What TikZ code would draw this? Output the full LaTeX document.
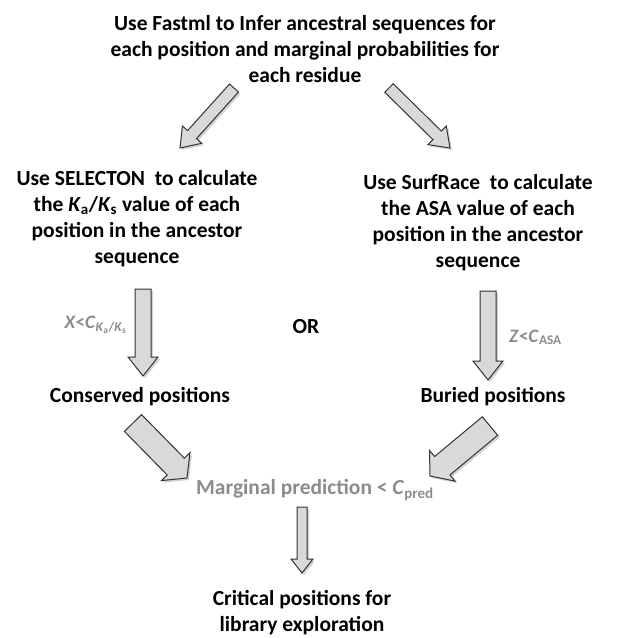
\documentclass[tikz,border=0pt]{standalone}
\usepackage{fontspec}
\setmainfont{Carlito}
\usetikzlibrary{calc, shadows}
\definecolor{cfill}{HTML}{D9D9D9}
\definecolor{cline}{HTML}{333333}
\definecolor{cgrey}{HTML}{8C8C8C}
\tikzset{
  every picture/.style={font=\bfseries},
  step text/.style={align=center, font=\fontsize{21.5}{26}\selectfont\bfseries, inner sep=0pt},
  cond/.style={text=cgrey, inner sep=0pt},
  blockarr/.style={draw=cline, fill=cfill, line width=1pt, line join=miter,
    drop shadow={shadow xshift=2pt, shadow yshift=-2pt, opacity=0.35}},
}
% block arrow between two named coordinates: from, to, half shaft, half head, head length
\newcommand\blockarrow[5]{%
  \draw[blockarr] let \p1=(#1), \p2=(#2), \n1={atan2(\y2-\y1,\x2-\x1)},
    \n2={veclen(\x2-\x1,\y2-\y1)} in [shift={(\p1)}, rotate=\n1]
    (0pt,-#3pt) -- (\n2-#5pt,-#3pt) -- (\n2-#5pt,-#4pt) -- (\n2,0pt)
    -- (\n2-#5pt,#4pt) -- (\n2-#5pt,#3pt) -- (0pt,#3pt) -- cycle;
}
\begin{document}
\begin{tikzpicture}[x=1pt, y=-1pt]
  \useasboundingbox (0,0) rectangle (622,638);

  \node[step text] (fastml) at (305,49) {Use Fastml to Infer ancestral sequences for\\
    each position and marginal probabilities for\\ each residue};
  \node[step text] (selecton) at (137,219) {Use SELECTON\ \ to calculate\\
    the \textit{K}\textsubscript{a}/\textit{K}\textsubscript{s} value of each\\
    position in the ancestor\\ sequence};
  \node[step text] (surfrace) at (478,223) {Use SurfRace\ \ to calculate\\
    the ASA value of each\\ position in the ancestor\\ sequence};
  \node[step text] (or) at (306,327) {OR};
  \node[cond, font=\fontsize{19}{22}\selectfont\bfseries, anchor=base east] (xcond) at (127,328)
    {\textit{X}<\textit{C}\textsubscript{\textit{K}\textsubscript{a}/\textit{K}\textsubscript{s}}};
  \node[cond, font=\fontsize{19}{22}\selectfont\bfseries, anchor=base west] (zcond) at (509,342)
    {\textit{Z}<\textit{C}\textsubscript{ASA}};
  \node[step text] (conserved) at (140,397) {Conserved positions};
  \node[step text] (buried) at (493,397) {Buried positions};
  \node[step text, cond] (marginal) at (315,490) {Marginal prediction < \textit{C}\textsubscript{pred}};
  \node[step text] (critical) at (302,613) {Critical positions for\\ library exploration};

  % arrow ends
  \coordinate (a1s) at (234,88);  \coordinate (a1t) at (180,148);
  \coordinate (a2s) at (389,88);  \coordinate (a2t) at (450,148);
  \coordinate (a3s) at (143,289); \coordinate (a3t) at (143,376);
  \coordinate (a4s) at (488,291); \coordinate (a4t) at (488,380);
  \coordinate (a5s) at (133,423); \coordinate (a5t) at (187,478);
  \coordinate (a6s) at (490,426); \coordinate (a6t) at (430,476);
  \coordinate (a7s) at (302,507); \coordinate (a7t) at (302,573);

  \foreach \s/\t/\w/\h/\l in {a1s/a1t/6/13/18, a2s/a2t/6/13/18, a3s/a3t/8/15/19,
      a4s/a4t/8/15/19, a5s/a5t/12/20/16, a6s/a6t/12/20/16, a7s/a7t/5/11/14}
    \blockarrow{\s}{\t}{\w}{\h}{\l};
\end{tikzpicture}
\end{document}
